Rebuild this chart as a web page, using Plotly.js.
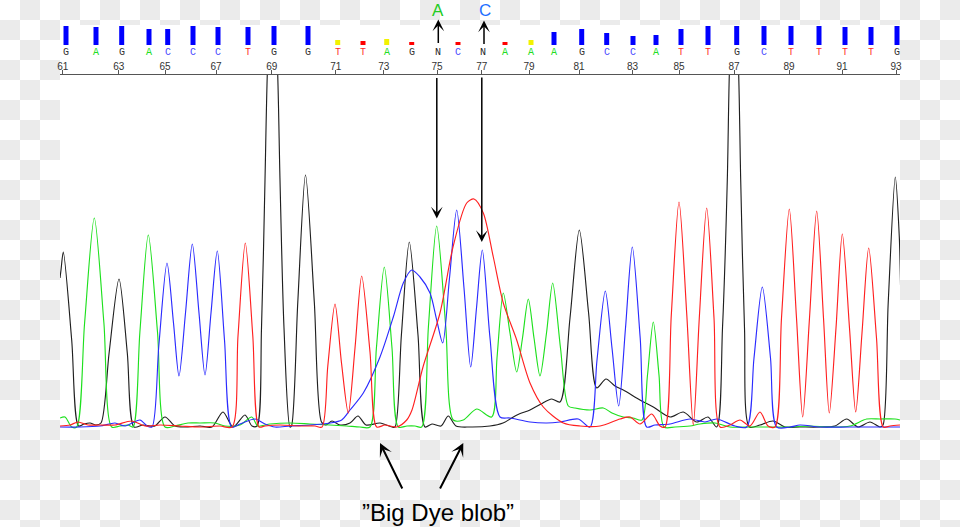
<!DOCTYPE html>
<html><head><meta charset="utf-8">
<script src="https://cdn.plot.ly/plotly-3.0.1.min.js"></script>
<style>
html,body{margin:0;padding:0;width:960px;height:527px;overflow:hidden;background:#ffffff;position:relative;}
#bg{position:absolute;left:0;top:0;width:960px;height:527px;background-color:#ffffff;
  background-image:linear-gradient(45deg,#ebebeb 25%,transparent 25%,transparent 75%,#ebebeb 75%,#ebebeb),
                   linear-gradient(45deg,#ebebeb 25%,transparent 25%,transparent 75%,#ebebeb 75%,#ebebeb);
  background-size:40px 40px;background-position:0 0,20px 20px;}
#panel{position:absolute;left:60px;top:25px;width:840px;height:405px;background:#ffffff;}
#chart{position:absolute;left:0;top:0;width:960px;height:527px;}
</style></head><body><div id="bg"></div><div id="panel"></div><div id="chart"></div>
<script>
// ---- base calls (top strip) ----
const baseCalls = ['G','A','G','A','C','C','C','T','G','G','T','T','A','G','N','C','N','A','A','A','G','C','C','A','T','T','G','C','T','T','T','T','G'];
const baseX = [66,96,121.7,149,167.7,193,218,248,274,308,337.7,363,386.7,411.7,438,458,483,505,531,554,581.7,606.7,633,656,681,708,736.7,764,791,819,845,871,897];
const quality = [19,18,19,16,16,19,18,18,19,19,5,4,6,3,0,3,0,3,5,13,16,12,9,10,16,19,19,19,19,19,18,18,19];

// ---- position ruler ----
const tickPos = [62.7,118.7,165,216,271.7,335.7,383.7,437,481.7,529,579,632.5,679,734,789,842,896];
const tickLabels = ['61','63','65','67','69','71','73','75','77','79','81','83','85','87','89','91','93'];

// ---- trace signals (scan position, intensity) ----
const gX = [60,61,63.3,71.7,78.5,84,90,96,101,109.1,119,127.3,134,143,150,155,165,175,185,200,212,223,233,245,252,257,261.5,265,267.5,272.5,277.5,280,284,290,291.5,297.8,305.5,314.3,321.5,326,332,340,350,358,366,380,392,395,401.4,409.3,418,425,432,441,448.3,456,470,490,503,517,530,541,551.7,560,570,579.3,588.6,596.7,606,615,623.3,640,653.3,670,683.3,696.7,708,716.7,722.5,727.3,729.5,734,738.5,740.7,744.5,749.5,760,773,785,800,820,835,846.7,858,870,880,883,888.2,895.3,899.3,903,910];
const gY = [150,158,176,88,2,4,5,3,5,75,149,75,1,3,2,2,11,2,1,2,1,16,1,13,2,2,100,248,360,460,360,248,100,1,2,126,253,126,6,3,7,3,5,12,3,5,1,1,93,186,93,1,4,2,12,2,1,2,5,13,18,24,29,26,110,198,115,40,49,42,38,28,21,11,16,6,11,1,100,248,360,460,360,248,100,1,3,7,1,1,1,2,9,1,6,1,3,125,251,191,60,1];

const aX = [60,65,71.7,76.7,84.6,94.3,103.9,111.7,120,128,133,139.9,148.3,157.5,165,175,188,200,215,225,240,251.7,258,270,290,310,330,346.7,360,370,376.4,384.3,392,398.3,407,415,421.7,428.4,436.7,445.8,453.3,463.3,476.7,491.7,497,503.3,510,516.7,522.5,528.3,534,540,546.5,552.7,560.5,568.3,575,590,603.3,612,623.3,633,642,647.5,653.3,659,664,675,690,700,715,730,750,770,790,810,830,850,866.7,880,895,900];
const aY = [10,11,1,1,105,210,105,1,2,3,1,96,193,96,1,2,5,5,5,2,3,11,2,4,5,4,3,2,1,1,80,161,80,1,2,2,1,101,202,101,8,8,19,11,70,135,95,56,90,129,90,52,95,145,80,22,20,18,20,15,11,10,8,53,106,53,1,1,2,4,5,1,1,1,1,2,1,2,9,9,9,8];

const cX = [60,80,100,115,125,140,147,152,158.8,167,173.5,179,185.5,192.3,199,205,211,217.3,224.5,231.7,240,255,265,275,290,310,330,341.7,350,363.3,380,393.3,403.3,411.7,420,430,436.7,442.7,449.5,456.7,464,470.7,476.5,482.3,490,500,510,530,546.7,560,578.3,590,597,605.3,612,618.7,625.5,632.3,640.2,646.7,655,670,690,705,716.7,735,746.7,754,762.3,770.5,776.7,790,800,820,850,880,900];
const cY = [1,1,2,5,2,8,2,1,82,165,105,52,115,184,115,53,115,177,88,1,4,9,4,1,2,3,5,8,18,35,71,111,145,158,151,135,108,85,150,218,140,61,120,178,90,11,10,6,5,6,9,1,68,137,80,22,100,181,90,1,3,4,9,6,9,2,1,70,141,70,1,1,3,1,1,1,1];

const tX = [60,70,78,88,100,115,131.7,145,160,180,200,220,232,238,245.3,252.8,259,265,280,300,315,322,327.8,335,341.5,348.3,355,361.7,370,376.7,385,396.7,406.7,412,423,440,453,466.7,474,483.3,493.3,503.3,516.7,530,543.3,563.3,580,600,620,630,640,651.7,660,665,671.3,679,686.8,693.3,699.3,706.7,714,720,730,740,750,760,768,775,781.5,789.3,796.5,802.7,809.5,816.7,823.5,829.3,836,842.3,849.5,855.7,862,868.7,876.5,883.3,890,900];
const tY = [2,3,6,3,3,3,7,2,3,2,1,2,1,92,185,92,1,2,3,2,2,1,62,124,65,15,80,152,76,1,3,1,8,18,61,115,181,225,229,215,171,125,88,45,21,5,2,2,9,11,4,14,2,1,113,226,113,3,110,220,110,1,3,8,2,16,2,1,110,219,110,11,110,217,110,15,100,194,100,16,95,180,90,1,2,3];

// ---- styling ----
const W = 960, H = 527;
const fx = v => v / W;            // pixel column -> paper fraction
const fy = v => (H - v) / H;      // pixel row -> paper fraction
const letterColor = {G:'#333333', A:'#22dd22', C:'#4a4aff', T:'#ff2a2a', N:'#222222'};
const qualColor = q => q < 5 ? '#ff0000' : (q < 8 ? '#f2f200' : '#0000ff');

function sig(x, y, color){
  return {x:x, y:y, type:'scatter', mode:'lines', xaxis:'x', yaxis:'y',
    line:{color:color, width:1.15, shape:'spline', smoothing:0.8},
    hoverinfo:'skip', showlegend:false};
}

const data = [
  sig(gX, gY, '#202020'),
  sig(aX, aY, '#1ee01e'),
  sig(cX, cY, '#2b2bff'),
  sig(tX, tY, '#ff2020'),
  {x:baseX, y:quality, type:'bar', xaxis:'x', yaxis:'y2', width:5,
   marker:{color:quality.map(qualColor), line:{width:0}},
   hoverinfo:'skip', showlegend:false}
];

const annotations = baseCalls.map((b,i) => ({
  x: baseX[i], xref:'x', y: fy(52.5), yref:'paper', text: b, showarrow:false,
  xanchor:'center', yanchor:'middle',
  font:{family:'Liberation Mono, Courier New, monospace', size:10, color:letterColor[b]}
}));

annotations.push(
  {x:438.3, xref:'x', y:1, yref:'paper', text:'A', showarrow:false,
   xanchor:'center', yanchor:'top', borderpad:0,
   font:{family:'Liberation Sans, Arial, sans-serif', size:17, color:'#22cc22'}},
  {x:485, xref:'x', y:1, yref:'paper', text:'C', showarrow:false,
   xanchor:'center', yanchor:'top', borderpad:0,
   font:{family:'Liberation Sans, Arial, sans-serif', size:17, color:'#1e6fff'}},
  {x:438.3, xref:'x', y:fy(19.5), yref:'paper', text:'', showarrow:true,
   ax:0, ay:25, arrowhead:3, arrowsize:1.3, arrowwidth:1.5, arrowcolor:'#000'},
  {x:484, xref:'x', y:fy(20.5), yref:'paper', text:'', showarrow:true,
   ax:0, ay:25, arrowhead:3, arrowsize:1.3, arrowwidth:1.5, arrowcolor:'#000'},
  {x:436.8, xref:'x', y:fy(218.5), yref:'paper', text:'', showarrow:true,
   ax:0, ay:-142, arrowhead:3, arrowsize:1.3, arrowwidth:1.5, arrowcolor:'#000'},
  {x:481.8, xref:'x', y:fy(242), yref:'paper', text:'', showarrow:true,
   ax:0, ay:-166, arrowhead:3, arrowsize:1.3, arrowwidth:1.5, arrowcolor:'#000'},
  {x:380, xref:'x', y:fy(443), yref:'paper', text:'', showarrow:true,
   ax:23, ay:47, arrowhead:3, arrowsize:1.1, arrowwidth:2, arrowcolor:'#000'},
  {x:463.3, xref:'x', y:fy(443), yref:'paper', text:'', showarrow:true,
   ax:-24, ay:47, arrowhead:3, arrowsize:1.1, arrowwidth:2, arrowcolor:'#000'},
  {x:437.5, xref:'x', y:fy(512), yref:'paper', text:'\u201dBig Dye blob\u201d', showarrow:false,
   xanchor:'center', yanchor:'middle',
   font:{family:'Liberation Sans, Arial, sans-serif', size:24, color:'#000'}}
);

const layout = {
  width:W, height:H,
  margin:{l:0, r:0, t:0, b:0, pad:0},
  paper_bgcolor:'rgba(0,0,0,0)', plot_bgcolor:'rgba(0,0,0,0)',
  showlegend:false,
  xaxis:{domain:[fx(60), fx(900)], range:[60, 900], side:'top', anchor:'y',
    showline:true, linecolor:'#555', linewidth:1, ticks:'outside', ticklen:4, tickcolor:'#555',
    ticklabelstandoff:-4,
    tickvals:tickPos, ticktext:tickLabels, showgrid:false, zeroline:false, fixedrange:true,
    tickfont:{family:'Liberation Sans, Arial, sans-serif', size:10, color:'#333'}},
  yaxis:{domain:[fy(429.5), fy(75)], range:[-1.5, 353], visible:false, fixedrange:true},
  yaxis2:{domain:[fy(45), fy(26)], range:[0, 19], anchor:'x', visible:false, fixedrange:true},
  annotations:annotations
};

Plotly.newPlot('chart', data, layout, {staticPlot:true, displayModeBar:false});
</script></body></html>
